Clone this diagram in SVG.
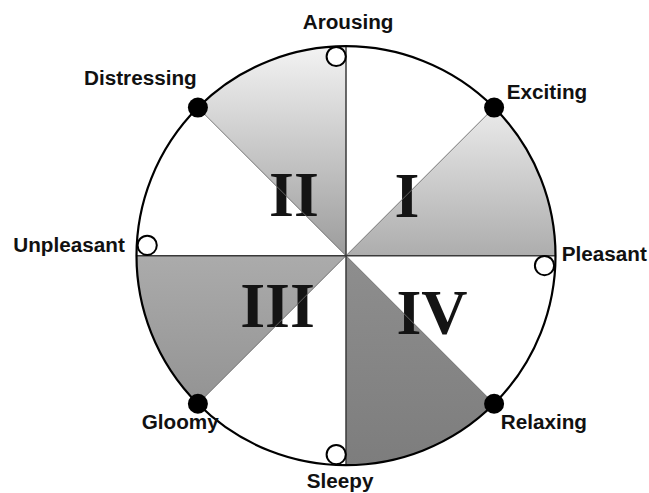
<svg xmlns="http://www.w3.org/2000/svg" width="649" height="493" viewBox="0 0 649 493">
<style>
.lbl{font-family:"Liberation Sans",Arial,sans-serif;font-weight:bold;font-size:20.7px;fill:#111}
.num{font-family:"Liberation Serif","Times New Roman",serif;font-weight:bold;font-size:64px;fill:#141414;text-anchor:middle}
.dot{fill:#000}
.open{fill:#fff;stroke:#000;stroke-width:2}
.axis{stroke:#3a3a3a;stroke-width:1.5;fill:none}
.diag{stroke:#6a6a6a;stroke-width:0.9;fill:none}
</style>
<defs>
<linearGradient id="gI" x1="0" y1="0" x2="0" y2="1"><stop offset="0" stop-color="#ebebeb"/><stop offset="1" stop-color="#adadad"/></linearGradient>
<linearGradient id="gII" x1="0" y1="0" x2="0" y2="1"><stop offset="0" stop-color="#f3f3f3"/><stop offset="1" stop-color="#9c9c9c"/></linearGradient>
<linearGradient id="gIII" x1="0" y1="0" x2="0" y2="1"><stop offset="0" stop-color="#ababab"/><stop offset="1" stop-color="#939393"/></linearGradient>
<linearGradient id="gIV" x1="0" y1="0" x2="0" y2="1"><stop offset="0" stop-color="#8e8e8e"/><stop offset="1" stop-color="#7d7d7d"/></linearGradient>
</defs>
<rect width="649" height="493" fill="#fff"/>
<g id="sector-I">
<path d="M346,255.7 L555.5,255.7 A209.5,209.5 0 0 0 494.1,107.6 Z" fill="url(#gI)"/>
<text class="num" x="407" y="216.7">I</text>
</g>
<g id="sector-II">
<path d="M346,255.7 L346,46.2 A209.5,209.5 0 0 0 197.9,107.6 Z" fill="url(#gII)"/>
<text class="num" x="294" y="216">II</text>
</g>
<g id="sector-III">
<path d="M346,255.7 L136.5,255.7 A209.5,209.5 0 0 0 197.9,403.8 Z" fill="url(#gIII)"/>
<text class="num" x="277.5" y="327">III</text>
</g>
<g id="sector-IV">
<path d="M346,255.7 L346,465.2 A209.5,209.5 0 0 0 494.1,403.8 Z" fill="url(#gIV)"/>
<text class="num" x="432" y="334">IV</text>
</g>
<g id="connectors">
<line class="diag" x1="197.9" y1="107.6" x2="494.1" y2="403.8"/>
<line class="diag" x1="494.1" y1="107.6" x2="197.9" y2="403.8"/>
<line class="axis" x1="136.5" y1="255.7" x2="555.5" y2="255.7"/>
<line class="axis" x1="346" y1="46.2" x2="346" y2="465.2"/>
</g>
<g id="outline">
<circle cx="346" cy="255.7" r="209.5" fill="none" stroke="#000" stroke-width="2.2"/>
</g>
<g id="arousing">
<circle class="open" cx="336.2" cy="56.5" r="9.6"/>
<text class="lbl" x="302.7" y="29.3">Arousing</text>
</g>
<g id="exciting">
<circle class="dot" cx="494.1" cy="107.6" r="10"/>
<text class="lbl" x="506.7" y="99">Exciting</text>
</g>
<g id="pleasant">
<circle class="open" cx="544.5" cy="265.6" r="9.6"/>
<text class="lbl" x="561.7" y="260.7">Pleasant</text>
</g>
<g id="relaxing">
<circle class="dot" cx="494.1" cy="403.8" r="10"/>
<text class="lbl" x="500.7" y="429.3">Relaxing</text>
</g>
<g id="sleepy">
<circle class="open" cx="336.2" cy="454.6" r="9.6"/>
<text class="lbl" x="306.7" y="488.3">Sleepy</text>
</g>
<g id="gloomy">
<circle class="dot" cx="197.9" cy="403.8" r="10"/>
<text class="lbl" x="141.7" y="429.3">Gloomy</text>
</g>
<g id="unpleasant">
<circle class="open" cx="147.2" cy="245.3" r="9.6"/>
<text class="lbl" x="13.3" y="251.7">Unpleasant</text>
</g>
<g id="distressing">
<circle class="dot" cx="197.9" cy="107.6" r="10"/>
<text class="lbl" x="84" y="85">Distressing</text>
</g>
</svg>
